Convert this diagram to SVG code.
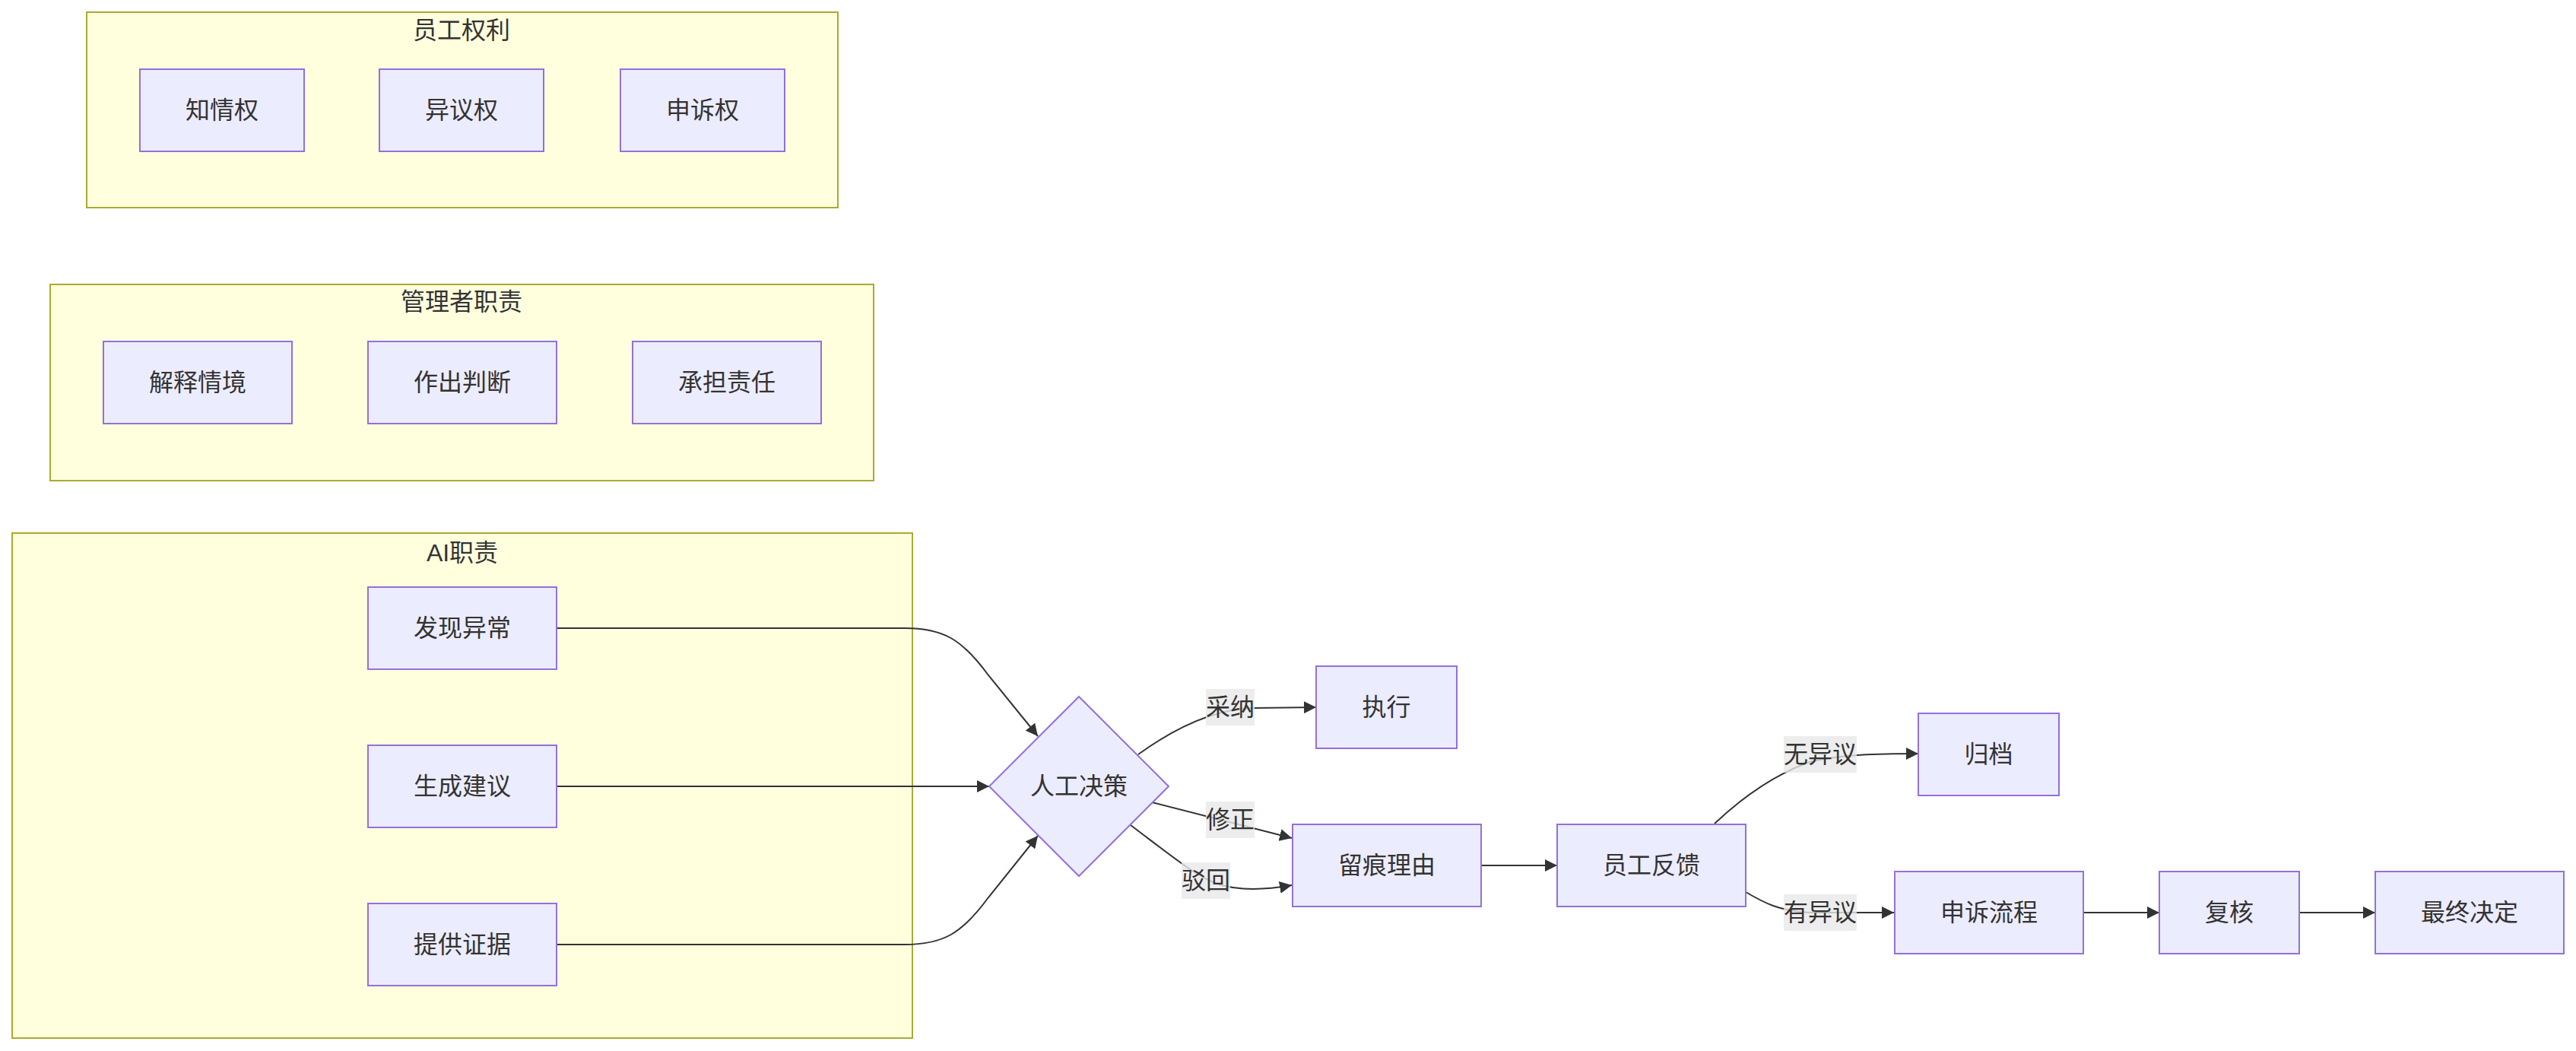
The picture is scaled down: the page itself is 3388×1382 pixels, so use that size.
<svg xmlns="http://www.w3.org/2000/svg" width="3388" height="1382" viewBox="0 0 3388 1382">
<defs>
<style>
.cluster rect{fill:#ffffde;stroke:#aaaa33;stroke-width:2}
.node rect,.node polygon{fill:#ECECFF;stroke:#9370DB;stroke-width:2}
text{font-family:"Liberation Sans","Noto Sans CJK SC",sans-serif;font-size:32px;fill:#333;text-anchor:middle;dominant-baseline:central}
.edges path{fill:none;stroke:#333;stroke-width:2}
.lbl rect{fill:#e8e8e8;fill-opacity:0.8}
</style>
<marker id="arrow" viewBox="0 0 10 10" refX="10" refY="5" markerUnits="userSpaceOnUse" markerWidth="16" markerHeight="16" orient="auto">
<path d="M0,0 L10,5 L0,10 z" fill="#333"/>
</marker>
</defs>
<rect width="3388" height="1382" fill="#ffffff"/>

<g id="cluster-rights" class="cluster">
<rect x="114" y="16" width="988" height="257"/>
<text x="607" y="40">员工权利</text>
</g>
<g id="cluster-manager" class="cluster">
<rect x="66" y="374" width="1083" height="258"/>
<text x="607" y="397">管理者职责</text>
</g>
<g id="cluster-ai" class="cluster">
<rect x="16" y="701" width="1184" height="664"/>
<text x="608" y="727">AI职责</text>
</g>

<g class="edges" id="edges">
<path marker-end="url(#arrow)" d="M732,826 L1190,826 C1240,826 1265,840 1300,888 L1365,968"/>
<path marker-end="url(#arrow)" d="M732,1034 L1301,1034"/>
<path marker-end="url(#arrow)" d="M732,1242 L1190,1242 C1240,1242 1265,1228 1300,1180 L1365,1099"/>
<path marker-end="url(#arrow)" d="M1497,992 Q1580,932 1650,931 L1731,930"/>
<path marker-end="url(#arrow)" d="M1515,1055 L1699,1102"/>
<path marker-end="url(#arrow)" d="M1487,1085 C1540,1125 1570,1150 1600,1162 C1630,1172 1665,1170 1699,1164"/>
<path marker-end="url(#arrow)" d="M1948,1138 L2048,1138"/>
<path marker-end="url(#arrow)" d="M2255,1083 C2290,1050 2330,1020 2380,1002 C2420,992 2470,991 2523,991"/>
<path marker-end="url(#arrow)" d="M2296,1173 C2320,1187 2340,1198 2380,1200 L2491,1200"/>
<path marker-end="url(#arrow)" d="M2740,1200 L2840,1200"/>
<path marker-end="url(#arrow)" d="M3024,1200 L3124,1200"/>
</g>

<g id="edge-labels">
<g class="lbl" id="label-caina"><rect x="1586" y="906" width="64" height="48"/><text x="1618" y="930">采纳</text></g>
<g class="lbl" id="label-xiuzheng"><rect x="1586" y="1054" width="64" height="48"/><text x="1618" y="1078">修正</text></g>
<g class="lbl" id="label-bohui"><rect x="1554" y="1134" width="64" height="48"/><text x="1586" y="1158">驳回</text></g>
<g class="lbl" id="label-wuyiyi"><rect x="2346" y="968" width="96" height="48"/><text x="2394" y="992">无异议</text></g>
<g class="lbl" id="label-youyiyi"><rect x="2346" y="1176" width="96" height="48"/><text x="2394" y="1200">有异议</text></g>
</g>

<g id="n-zhiqing" class="node"><rect x="184" y="91" width="216" height="108"/><text x="292" y="145">知情权</text></g>
<g id="n-yiyi" class="node"><rect x="499" y="91" width="216" height="108"/><text x="607" y="145">异议权</text></g>
<g id="n-shensu" class="node"><rect x="816" y="91" width="216" height="108"/><text x="924" y="145">申诉权</text></g>

<g id="n-jieshi" class="node"><rect x="136" y="449" width="248" height="108"/><text x="260" y="503">解释情境</text></g>
<g id="n-zuochu" class="node"><rect x="484" y="449" width="248" height="108"/><text x="608" y="503">作出判断</text></g>
<g id="n-chengdan" class="node"><rect x="832" y="449" width="248" height="108"/><text x="956" y="503">承担责任</text></g>

<g id="n-faxian" class="node"><rect x="484" y="772" width="248" height="108"/><text x="608" y="826">发现异常</text></g>
<g id="n-shengcheng" class="node"><rect x="484" y="980" width="248" height="108"/><text x="608" y="1034">生成建议</text></g>
<g id="n-tigong" class="node"><rect x="484" y="1188" width="248" height="108"/><text x="608" y="1242">提供证据</text></g>

<g id="n-decision" class="node"><polygon points="1419,916 1537,1034 1419,1152 1301,1034"/><text x="1419" y="1034">人工决策</text></g>
<g id="n-zhixing" class="node"><rect x="1731" y="876" width="185" height="108"/><text x="1823.5" y="930">执行</text></g>
<g id="n-liuhen" class="node"><rect x="1700" y="1084" width="248" height="108"/><text x="1824" y="1138">留痕理由</text></g>
<g id="n-fankui" class="node"><rect x="2048" y="1084" width="248" height="108"/><text x="2172" y="1138">员工反馈</text></g>
<g id="n-guidang" class="node"><rect x="2523" y="938" width="185" height="108"/><text x="2615.5" y="992">归档</text></g>
<g id="n-shensuliucheng" class="node"><rect x="2492" y="1146" width="248" height="108"/><text x="2616" y="1200">申诉流程</text></g>
<g id="n-fuhe" class="node"><rect x="2840" y="1146" width="184" height="108"/><text x="2932" y="1200">复核</text></g>
<g id="n-zuizhong" class="node"><rect x="3124" y="1146" width="248" height="108"/><text x="3248" y="1200">最终决定</text></g>
</svg>
